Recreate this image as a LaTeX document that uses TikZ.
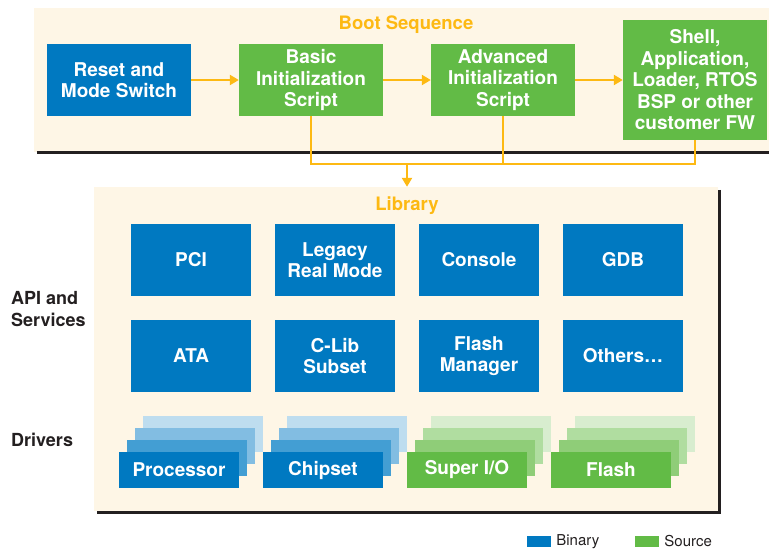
\documentclass[tikz,border=0pt]{standalone}
\usepackage{fontspec}
\setmainfont{TeX Gyre Heros}
\usepackage{tikz}
\usetikzlibrary{positioning, calc, arrows.meta}

\definecolor{bin0}{HTML}{0079C1}
\definecolor{bin1}{HTML}{439ED3}
\definecolor{bin2}{HTML}{82BDE2}
\definecolor{bin3}{HTML}{BEDDEF}
\definecolor{src0}{HTML}{62BB46}
\definecolor{src1}{HTML}{8FCD78}
\definecolor{src2}{HTML}{B0DDA0}
\definecolor{src3}{HTML}{D8EDCF}
\definecolor{cream}{HTML}{FEF6E6}
\definecolor{gold}{HTML}{FDB913}
\definecolor{ink}{HTML}{231F20}

\begin{document}
\begin{tikzpicture}[x=1pt,y=-1pt,
  blk/.style={inner sep=0pt, text=white, align=center, font=\fontsize{19}{21.5}\selectfont\bfseries},
  bgbox/.style={fill=cream, inner sep=0pt},
  ttl/.style={text=gold, font=\fontsize{18.5}{20}\selectfont\bfseries},
  side/.style={text=ink, align=left, anchor=west, inner sep=0pt, font=\fontsize{18}{21.5}\selectfont\bfseries},
  bootarr/.style={draw=gold, line width=2.6pt, -{Triangle[length=9pt,width=10pt]}},
  bootline/.style={draw=gold, line width=2.6pt},
  shadowline/.style={draw=ink, line width=2.6pt}]
\useasboundingbox (0,0) rectangle (769,550);
% backgrounds
\node[bgbox, minimum width=735, minimum height=144] (boot) at (401.5,80) {};
\draw[shadowline] ([xshift=3pt]boot.south west) -- (boot.south east);
\node[bgbox, minimum width=624, minimum height=324] (lib) at (406,349) {};
\draw[shadowline] ([xshift=1.3pt,yshift=-3pt]lib.north east) |- ([xshift=3pt,yshift=-1.3pt]lib.south west);
\node[ttl] (boottitle) at (406,25) {Boot Sequence};
\node[ttl] (libtitle) at (407,206) {Library};
% boot sequence
\node[blk, fill=bin0, minimum width=144, minimum height=72] (reset) at (119,80) {Reset and\\Mode Switch};
\node[blk, fill=src0, minimum width=144, minimum height=72] (basic) at (311,80) {Basic\\Initialization\\Script};
\node[blk, fill=src0, minimum width=144, minimum height=72] (adv) at (503,80) {Advanced\\Initialization\\Script};
\node[blk, fill=src0, minimum width=144, minimum height=120] (shell) at (695,80) {Shell,\\Application,\\Loader, RTOS\\BSP or other\\customer FW};
\draw[bootarr] (reset) -- (basic);
\draw[bootarr] (basic) -- (adv);
\draw[bootarr] (adv) -- (shell);
\coordinate (join) at (407,164);
\draw[bootline] (basic.south) |- (join) -| (shell.south);
\draw[bootline] (adv.south) -- (adv.south |- join);
\draw[bootarr] (join) -- (join |- lib.north);
% library
\foreach \n/\x/\y/\t in {pci/191/260/PCI, legacy/335/260/{Legacy\\Real Mode}, console/479/260/Console, gdb/623/260/GDB,
                        ata/191/356/ATA, clib/335/356/{C-Lib\\Subset}, flash/479/356/{Flash\\Manager}, others/623/356/Others\dots}
  \node[blk, fill=bin0, minimum width=120, minimum height=72] (\n) at (\x,\y) {\t};
\node[side] (api) at (11,309) {API and\\Services};
\node[side] (drivers) at (11,440) {Drivers};
% drivers
\foreach \n/\x/\c/\t in {proc/179/bin/Processor, chip/323/bin/Chipset, sio/467/src/{Super I/O}, fdrv/611/src/Flash}{
  \foreach \k in {3,2,1}
    \node[fill=\c\k, inner sep=0pt, minimum width=120, minimum height=36] (\n\k) at (\x+8*\k,470-12*\k) {};
  \node[blk, fill=\c0, minimum width=120, minimum height=36] (\n) at (\x,470) {\t};
}
% legend
\node[fill=bin0, inner sep=0pt, minimum width=24, minimum height=11] (keybin) at (539,541.5) {};
\node[right=5pt of keybin, inner sep=0pt, text=ink, font=\fontsize{15}{18}\selectfont] (keybintxt) {Binary};
\node[fill=src0, inner sep=0pt, minimum width=24, minimum height=11] (keysrc) at (647,541.5) {};
\node[right=5pt of keysrc, inner sep=0pt, text=ink, font=\fontsize{15}{18}\selectfont] (keysrctxt) {Source};
\end{tikzpicture}
\end{document}
